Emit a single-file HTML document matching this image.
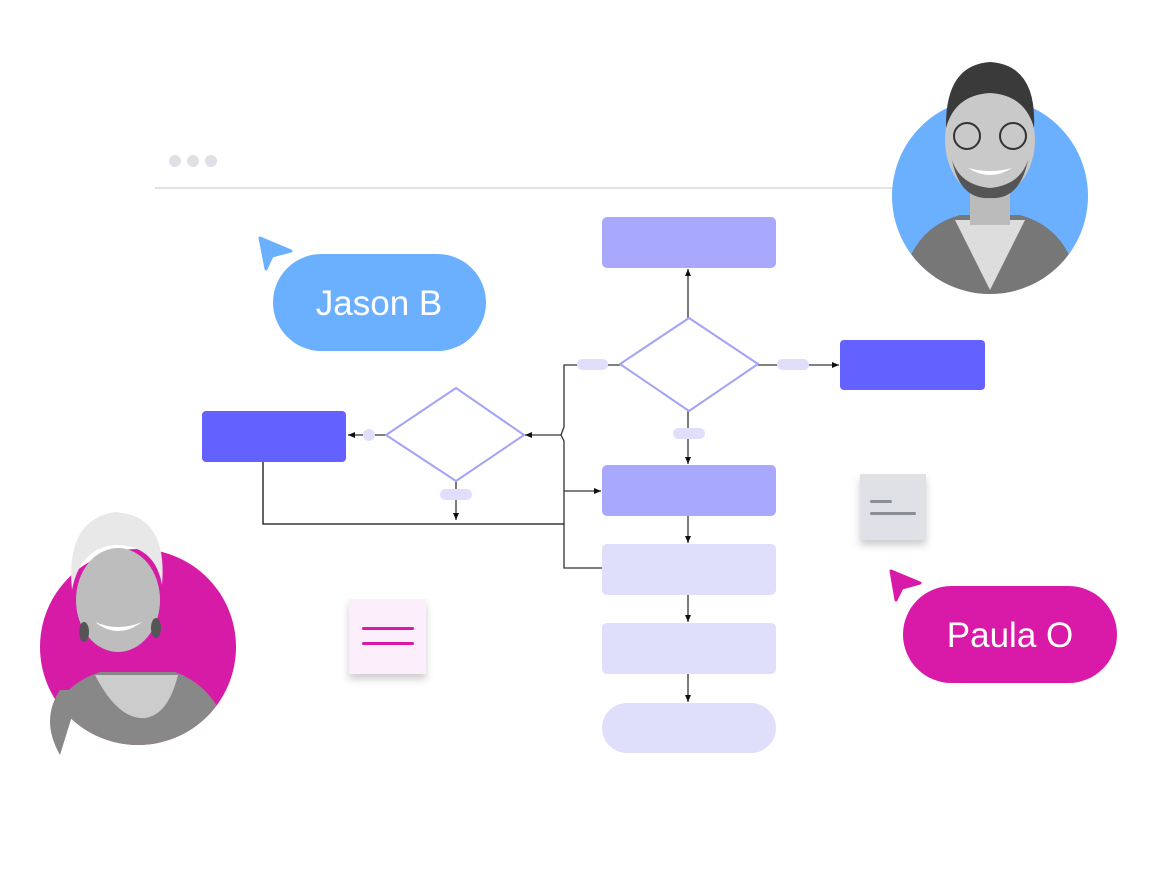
<!DOCTYPE html>
<html><head><style>html,body{margin:0;padding:0;background:#fff;}svg{display:block}</style></head><body>
<svg width="1160" height="870" viewBox="0 0 1160 870" xmlns="http://www.w3.org/2000/svg">
<defs>
<marker id="a" markerWidth="8" markerHeight="8" refX="7" refY="4" orient="auto" markerUnits="userSpaceOnUse"><path d="M0,1 L7,4 L0,7 Z" fill="#111"/></marker>
<filter id="sh" x="-20%" y="-20%" width="140%" height="160%"><feDropShadow dx="0" dy="5" stdDeviation="4" flood-color="#000" flood-opacity="0.2"/></filter>
<clipPath id="c1"><circle cx="990" cy="196" r="98"/></clipPath>
<clipPath id="c2"><circle cx="138" cy="647" r="98"/></clipPath>
</defs>
<circle cx="175" cy="161" r="6" fill="#dfe0e6"/><circle cx="193" cy="161" r="6" fill="#dfe0e6"/><circle cx="211" cy="161" r="6" fill="#dfe0e6"/>
<line x1="155" y1="188" x2="900" y2="188" stroke="#e3e3e6" stroke-width="2"/>
<g stroke="#333" stroke-width="1.3" fill="none">
<line x1="688" y1="318" x2="688" y2="269" marker-end="url(#a)"/>
<line x1="758" y1="365" x2="839" y2="365" marker-end="url(#a)"/>
<line x1="688" y1="411" x2="688" y2="464" marker-end="url(#a)"/>
<line x1="688" y1="516" x2="688" y2="543" marker-end="url(#a)"/>
<line x1="688" y1="595" x2="688" y2="622" marker-end="url(#a)"/>
<line x1="688" y1="674" x2="688" y2="702" marker-end="url(#a)"/>
<path d="M620,365 H564 V427 L561,435 L564,441 V568 H602"/>
<line x1="561" y1="435" x2="525" y2="435" marker-end="url(#a)"/>
<line x1="564" y1="491" x2="601" y2="491" marker-end="url(#a)"/>
<line x1="386" y1="435" x2="348" y2="435" marker-end="url(#a)"/>
<line x1="456" y1="481" x2="456" y2="520" marker-end="url(#a)"/>
<path d="M263,462 V524 H564" stroke="#111"/>
</g>
<rect x="602" y="217" width="174" height="51" rx="5" fill="#a8a8fc"/>
<polygon points="689,318 758,364 689,411 620,364" fill="#fff" stroke="#a3a3f7" stroke-width="2" stroke-linejoin="round"/>
<polygon points="456,388 524,435 456,481 386,435" fill="#fff" stroke="#a3a3f7" stroke-width="2" stroke-linejoin="round"/>
<rect x="777" y="359" width="32" height="11" rx="5.5" fill="#dfdffc"/>
<rect x="577" y="359" width="31" height="11" rx="5.5" fill="#dfdffc"/>
<rect x="673" y="428" width="32" height="11" rx="5.5" fill="#dfdffc"/>
<rect x="440" y="489" width="32" height="11" rx="5.5" fill="#dfdffc"/>
<circle cx="369" cy="435" r="6" fill="#dfdffc"/>
<rect x="840" y="340" width="145" height="50" rx="4" fill="#6361ff"/>
<rect x="202" y="411" width="144" height="51" rx="4" fill="#6361ff"/>
<rect x="602" y="465" width="174" height="51" rx="5" fill="#a8a8fc"/>
<rect x="602" y="544" width="174" height="51" rx="5" fill="#dfdffc"/>
<rect x="602" y="623" width="174" height="51" rx="5" fill="#dfdffc"/>
<rect x="602" y="703" width="174" height="50" rx="25" fill="#dfdffc"/>
<rect x="273" y="254" width="213" height="97" rx="48.5" fill="#6bb0ff"/>
<text x="379" y="315" text-anchor="middle" font-family="Liberation Sans, sans-serif" font-size="35" font-weight="500" fill="#fff">Jason B</text>
<path d="M260,238 L291,251 L272,256 L266,269 Z" fill="#6bb0ff" stroke="#6bb0ff" stroke-width="3" stroke-linejoin="round"/>
<rect x="903" y="586" width="214" height="97" rx="48.5" fill="#d91aa8"/>
<text x="1010" y="647" text-anchor="middle" font-family="Liberation Sans, sans-serif" font-size="35" font-weight="500" fill="#fff">Paula O</text>
<path d="M891,571 L920,583 L902,588 L896,600 Z" fill="#d91aa8" stroke="#d91aa8" stroke-width="3" stroke-linejoin="round"/>
<rect x="349" y="599" width="77" height="75" fill="#fdeefc" filter="url(#sh)"/>
<rect x="362" y="627" width="52" height="3" rx="1.5" fill="#d91aa8"/>
<rect x="362" y="642" width="52" height="3" rx="1.5" fill="#d91aa8"/>
<rect x="860" y="474" width="66" height="66" fill="#dfe1e6" filter="url(#sh)"/>
<rect x="870" y="500" width="22" height="3" rx="1.5" fill="#8a8f96"/>
<rect x="870" y="512" width="46" height="3" rx="1.5" fill="#8a8f96"/>
<circle cx="990" cy="196" r="98" fill="#6bb0ff"/>
<g clip-path="url(#c1)">
<path d="M900,300 Q905,230 960,215 L1020,215 Q1075,230 1080,300 Z" fill="#777"/>
<path d="M955,220 L990,290 L1025,220 Z" fill="#ddd"/>
</g>
<rect x="970" y="175" width="40" height="50" fill="#bbb"/>
<ellipse cx="990" cy="140" rx="45" ry="58" fill="#c9c9c9"/>
<path d="M946,128 Q945,65 990,62 Q1037,65 1034,128 Q1025,95 990,93 Q955,95 946,128 Z" fill="#3a3a3a"/>
<path d="M952,160 Q960,200 990,198 Q1020,200 1028,160 Q1020,185 990,188 Q960,185 952,160 Z" fill="#555"/>
<path d="M968,168 Q990,182 1012,168 Q990,174 968,168 Z" fill="#fff"/>
<circle cx="967" cy="136" r="13" fill="none" stroke="#333" stroke-width="2"/><circle cx="1013" cy="136" r="13" fill="none" stroke="#333" stroke-width="2"/>
<circle cx="138" cy="647" r="98" fill="#d61ca7"/>
<g clip-path="url(#c2)">
<path d="M40,760 Q45,690 100,672 L175,672 Q225,690 235,760 Z" fill="#888"/>
<path d="M95,675 Q118,720 145,718 Q168,715 178,675 Z" fill="#ccc"/>
</g>
<path d="M60,755 Q40,720 60,690 L80,690 Z" fill="#888"/>
<ellipse cx="118" cy="600" rx="42" ry="52" fill="#bdbdbd"/>
<path d="M72,590 Q65,520 115,512 Q168,515 162,585 Q155,545 115,545 Q80,548 72,590 Z" fill="#e8e8e8"/>
<path d="M95,622 Q118,640 142,622 Q118,632 95,622 Z" fill="#fff"/>
<ellipse cx="84" cy="632" rx="5" ry="10" fill="#555"/><ellipse cx="156" cy="628" rx="5" ry="10" fill="#555"/>
</svg>
</body></html>
